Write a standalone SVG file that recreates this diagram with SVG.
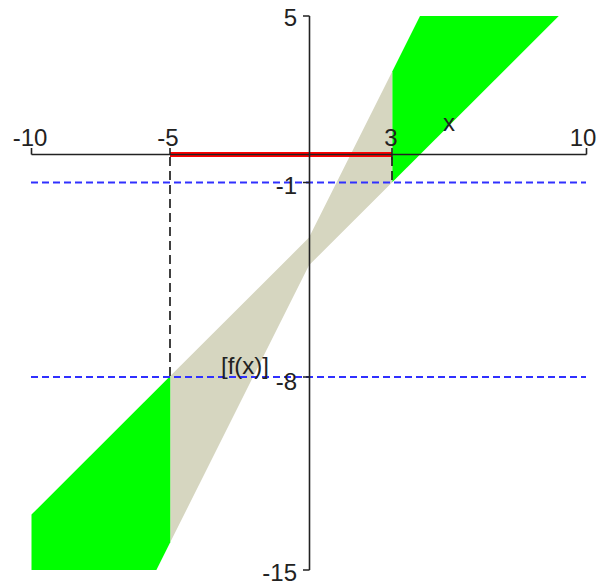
<svg xmlns="http://www.w3.org/2000/svg" width="597" height="586" viewBox="0 0 597 586">
<style>
.green{fill:#00ff00}
.band{fill:#d6d6c0}
.axis{stroke:#222;stroke-width:1.6;fill:none}
.blue{stroke:#3030ff;stroke-width:2;stroke-dasharray:7 4;fill:none}
.vdash{stroke:#111;stroke-width:1.6;stroke-dasharray:9 5;fill:none}
.red{stroke:#ff0000;stroke-width:5;fill:none}
text{font-family:"Liberation Sans",Arial,sans-serif;font-size:24px;fill:#222}
.xl{text-anchor:middle}
.yl{text-anchor:end}
</style>
<rect width="597" height="586" fill="#ffffff"/>
<g id="regions">
<polygon class="green" points="392.25,71.4 420,16 558.75,16 392.25,182.2"/>
<polygon class="band" points="392.25,71.4 309,237.6 170.25,376.1 170.25,542.3 309,265.3 392.25,182.2"/>
<polygon class="green" points="170.25,376.1 31.5,514.6 31.5,570 156.4,570 170.25,542.3"/>
</g>
<g id="connectors">
<line class="blue" x1="31" y1="182.5" x2="586" y2="182.5"/>
<line class="blue" x1="31" y1="377" x2="586" y2="377"/>
<line class="vdash" x1="170" y1="157" x2="170" y2="377"/>
<line class="vdash" x1="392" y1="157" x2="392" y2="182"/>
<line class="red" x1="170" y1="154.5" x2="392" y2="154.5"/>
</g>
<g id="axes">
<line class="axis" x1="31.5" y1="154.5" x2="586.5" y2="154.5"/>
<line class="axis" x1="309.5" y1="16" x2="309.5" y2="570"/>
<path class="axis" d="M31.5,148V154.5M170,148V154.5M392,148V160M586.5,148V154.5"/>
<path class="axis" d="M303,16H309.5M303,182.5H309.5M303,377H309.5M303,570H309.5"/>
</g>
<g id="labels">
<text class="xl" x="30" y="146">-10</text>
<text class="xl" x="168" y="146">-5</text>
<text class="xl" x="391" y="146">3</text>
<text class="xl" x="583" y="146">10</text>
<text x="443" y="131">x</text>
<text class="yl" x="297" y="26">5</text>
<text class="yl" x="297" y="194">-1</text>
<text class="yl" x="297" y="390">-8</text>
<text class="yl" x="297" y="581">-15</text>
<text x="221" y="374">[f(x)]</text>
</g>
</svg>
